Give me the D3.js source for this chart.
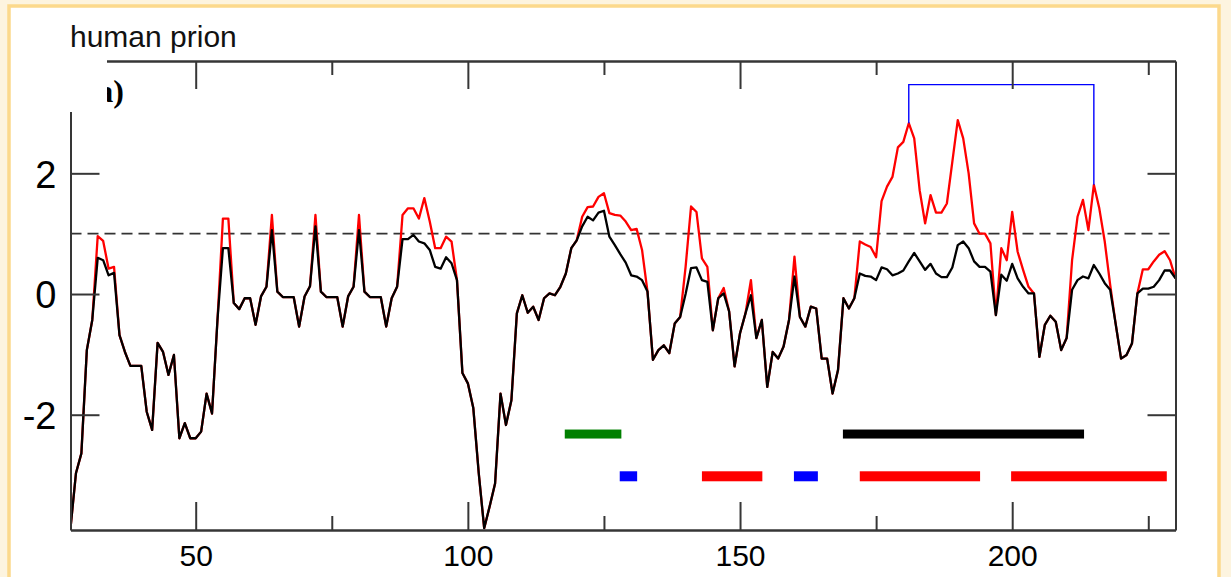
<!DOCTYPE html>
<html>
<head>
  <meta charset="utf-8">
  <title>human prion</title>
  <script src="https://cdn.jsdelivr.net/npm/d3@7.0.0/dist/d3.min.js"></script>
  <style>
    body { margin: 0; background: #fdf4df; }
    svg { display: block; font-family: "Liberation Sans", Arial, sans-serif; }
  </style>
</head>
<body>
  <div id="svgContainer"></div>

  <script>
    // residue numbers run from firstResidue, one value per residue
    var firstResidue = 27;

    // upper (red) profile
    var redValues = [
      -3.88, -2.97, -2.64, -0.93, -0.43, 0.96, 0.88, 0.42, 0.45, -0.68,
      -0.96, -1.19, -1.19, -1.19, -1.95, -2.25, -0.81, -0.96, -1.34, -1.01,
      -2.39, -2.14, -2.39, -2.39, -2.28, -1.65, -1.98, -0.43, 1.25, 1.25,
      -0.15, -0.25, -0.07, -0.07, -0.51, -0.04, 0.12, 1.31, 0.04, -0.05,
      -0.05, -0.05, -0.54, -0.04, 0.13, 1.31, 0.04, -0.05, -0.05, -0.05,
      -0.54, -0.04, 0.12, 1.31, 0.04, -0.05, -0.05, -0.05, -0.54, -0.07,
      0.12, 1.31, 1.42, 1.42, 1.25, 1.59, 1.2, 0.76, 0.76, 0.95,
      0.87, 0.23, -1.31, -1.48, -1.89, -2.97, -3.88, -3.52, -3.14, -1.65,
      -2.17, -1.76, -0.32, -0.02, -0.31, -0.21, -0.43, -0.07, 0.01, -0.02,
      0.12, 0.34, 0.76, 0.89, 1.28, 1.44, 1.45, 1.61, 1.67, 1.34,
      1.31, 1.3, 1.2, 1.06, 1.08, 0.73, 0.04, -1.09, -0.93, -0.85,
      -0.98, -0.49, -0.38, 0.45, 1.45, 1.36, 0.59, 0.45, -0.6, -0.07,
      0.1, -0.29, -1.2, -0.65, -0.32, 0.23, -0.73, -0.43, -1.54, -0.96,
      -1.07, -0.87, -0.43, 0.62, -0.38, -0.54, -0.21, -0.24, -1.07, -1.07,
      -1.65, -1.26, -0.07, -0.24, -0.07, 0.87, 0.82, 0.78, 0.61, 1.54,
      1.78, 1.94, 2.43, 2.52, 2.83, 2.58, 1.72, 1.17, 1.64, 1.35,
      1.35, 1.5, 2.19, 2.88, 2.58, 2.0, 1.17, 1.0, 1.0, 0.84,
      -0.35, 0.76, 0.56, 1.36, 0.7, 0.4, 0.12, 0.01, -1.04, -0.51,
      -0.36, -0.46, -0.93, -0.73, 0.56, 1.28, 1.56, 1.06, 1.81, 1.42,
      0.87, 0.15, -0.49, -1.07, -1.01, -0.82, 0.01, 0.41, 0.41, 0.54,
      0.65, 0.71, 0.56, 0.26
    ];

    // lower (black) profile
    var blackValues = [
      -3.88, -2.97, -2.64, -0.93, -0.43, 0.60, 0.56, 0.31, 0.35, -0.68,
      -0.96, -1.19, -1.19, -1.19, -1.95, -2.25, -0.81, -0.96, -1.34, -1.01,
      -2.39, -2.14, -2.39, -2.39, -2.28, -1.65, -1.98, -0.43, 0.76, 0.76,
      -0.15, -0.25, -0.07, -0.07, -0.51, -0.04, 0.12, 1.06, 0.04, -0.05,
      -0.05, -0.05, -0.54, -0.04, 0.13, 1.12, 0.04, -0.05, -0.05, -0.05,
      -0.54, -0.04, 0.12, 1.06, 0.04, -0.05, -0.05, -0.05, -0.54, -0.07,
      0.12, 0.91, 0.91, 0.98, 0.87, 0.84, 0.73, 0.45, 0.42, 0.61,
      0.51, 0.23, -1.31, -1.48, -1.89, -2.97, -3.88, -3.52, -3.14, -1.65,
      -2.17, -1.76, -0.32, -0.02, -0.31, -0.21, -0.43, -0.07, 0.01, -0.02,
      0.12, 0.34, 0.76, 0.89, 1.12, 1.28, 1.22, 1.35, 1.38, 0.95,
      0.81, 0.66, 0.52, 0.31, 0.29, 0.23, 0.04, -1.09, -0.93, -0.85,
      -0.98, -0.49, -0.38, 0.0, 0.43, 0.44, 0.23, 0.2, -0.6, -0.07,
      0.01, -0.29, -1.2, -0.65, -0.32, -0.02, -0.73, -0.43, -1.54, -0.96,
      -1.07, -0.87, -0.43, 0.29, -0.38, -0.54, -0.21, -0.24, -1.07, -1.07,
      -1.65, -1.26, -0.07, -0.24, -0.07, 0.34, 0.30, 0.29, 0.23, 0.44,
      0.41, 0.31, 0.34, 0.39, 0.54, 0.68, 0.54, 0.40, 0.50, 0.34,
      0.28, 0.28, 0.44, 0.81, 0.87, 0.76, 0.54, 0.45, 0.45, 0.37,
      -0.35, 0.32, 0.22, 0.50, 0.26, 0.12, 0.01, 0.01, -1.04, -0.51,
      -0.36, -0.46, -0.93, -0.73, 0.07, 0.23, 0.29, 0.26, 0.48, 0.34,
      0.18, 0.07, -0.49, -1.07, -1.01, -0.82, 0.01, 0.09, 0.09, 0.12,
      0.23, 0.39, 0.39, 0.26
    ];

    // segment bars: [start, end, colour]
    var upperBars = [
      [117.8, 128.2, "#008000"],
      [168.9, 213.2, "#000000"]
    ];
    var lowerBars = [
      [127.9, 131.1, "#0000ff"],
      [143.0, 154.1, "#ff0000"],
      [159.9, 164.3, "#0000ff"],
      [172.0, 194.1, "#ff0000"],
      [199.8, 228.4, "#ff0000"]
    ];
    var upperBarLevel = -2.32;
    var lowerBarLevel = -3.02;

    // bracket between two residues
    var bracketFrom = 181, bracketTo = 215, bracketTop = 3.47;

    var xMajorTicks = [50, 100, 150, 200];
    var xMinorTicks = [75, 125, 175, 225];
    var yTicks = [-2, 0, 2];
    var thresholdValue = 1;

    var W = 1231, H = 577;
    var plotLeft = 70.5, plotRight = 1175.5, plotTop = 61, plotBottom = 530;

    var svg = d3.select("#svgContainer").append("svg")
      .attr("width", W)
      .attr("height", H);

    // page frame
    svg.append("rect").attr("x", 0).attr("y", 0).attr("width", W).attr("height", H).attr("fill", "#fdf4df");
    svg.append("rect")
      .attr("x", 9).attr("y", 6).attr("width", 1210).attr("height", H + 20)
      .attr("fill", "#ffffff").attr("stroke", "#fcd98c").attr("stroke-width", 3.5);

    var x = d3.scaleLinear().domain([27, 230]).range([plotLeft, plotRight]);
    var y = d3.scaleLinear().domain([-3.91, 3.861]).range([plotBottom, plotTop]);

    var residues = redValues.map(function(d, i) { return firstResidue + i; });

    svg.append("clipPath").attr("id", "plotClip")
      .append("rect").attr("x", plotLeft).attr("y", plotTop - 2)
      .attr("width", plotRight - plotLeft).attr("height", plotBottom - plotTop + 2);

    // threshold line
    svg.append("line")
      .attr("x1", x(27)).attr("x2", x(230))
      .attr("y1", y(thresholdValue)).attr("y2", y(thresholdValue))
      .attr("stroke", "#333").attr("stroke-width", 1.6)
      .attr("stroke-dasharray", "11,6");

    var line = d3.line()
      .x(function(d) { return x(d[0]); })
      .y(function(d) { return y(d[1]); });

    var plot = svg.append("g").attr("clip-path", "url(#plotClip)");

    plot.append("path")
      .datum(residues.map(function(r, i) { return [r, redValues[i]]; }))
      .attr("d", line)
      .attr("fill", "none")
      .attr("stroke", "#ff0000")
      .attr("stroke-width", 2.3)
      .attr("stroke-linejoin", "round");

    plot.append("path")
      .datum(residues.map(function(r, i) { return [r, blackValues[i]]; }))
      .attr("d", line)
      .attr("fill", "none")
      .attr("stroke", "#000000")
      .attr("stroke-width", 2.3)
      .attr("stroke-linejoin", "round");

    // bracket
    var iFrom = bracketFrom - firstResidue, iTo = bracketTo - firstResidue;
    svg.append("path")
      .datum([[bracketFrom, redValues[iFrom]], [bracketFrom, bracketTop], [bracketTo, bracketTop], [bracketTo, redValues[iTo]]])
      .attr("d", line)
      .attr("fill", "none")
      .attr("stroke", "#0000ff")
      .attr("stroke-width", 1.4);

    // segment bars
    function drawBars(bars, level, h) {
      svg.selectAll(null)
        .data(bars)
        .enter().append("rect")
        .attr("x", function(d) { return x(d[0]); })
        .attr("y", y(level) - h / 2)
        .attr("width", function(d) { return x(d[1]) - x(d[0]); })
        .attr("height", h)
        .attr("fill", function(d) { return d[2]; });
    }
    drawBars(upperBars, upperBarLevel, 9);
    drawBars(lowerBars, lowerBarLevel, 10);

    // axes
    function styleAxis(g) {
      g.style("color", "#363636");
      g.selectAll("path, line").attr("stroke-width", 2);
      g.selectAll("text").attr("fill", "#000");
    }
    var plainNumber = function(d) { return String(d); };

    svg.append("g")
      .attr("transform", "translate(0," + plotBottom + ")")
      .call(d3.axisBottom(x).tickValues(xMajorTicks).tickSizeInner(-28).tickSizeOuter(0).tickPadding(15).tickFormat(plainNumber))
      .call(styleAxis)
      .selectAll("text").attr("font-size", 30);

    svg.append("g")
      .attr("transform", "translate(0," + plotBottom + ")")
      .call(d3.axisBottom(x).tickValues(xMinorTicks).tickSizeInner(-14).tickSizeOuter(0).tickFormat(""))
      .call(styleAxis);

    svg.append("g")
      .attr("transform", "translate(0," + plotTop + ")")
      .call(d3.axisTop(x).tickValues(xMajorTicks).tickSizeInner(-28).tickSizeOuter(0).tickFormat(""))
      .call(styleAxis);

    svg.append("g")
      .attr("transform", "translate(0," + plotTop + ")")
      .call(d3.axisTop(x).tickValues(xMinorTicks).tickSizeInner(-14).tickSizeOuter(0).tickFormat(""))
      .call(styleAxis);

    svg.append("g")
      .attr("transform", "translate(" + plotLeft + ",0)")
      .call(d3.axisLeft(y).tickValues(yTicks).tickSizeInner(-29).tickSizeOuter(0).tickPadding(14).tickFormat(plainNumber))
      .call(styleAxis)
      .selectAll("text").attr("font-size", 38).attr("dy", "0.36em");

    svg.append("g")
      .attr("transform", "translate(" + plotRight + ",0)")
      .call(d3.axisRight(y).tickValues(yTicks).tickSizeInner(-28).tickSizeOuter(0).tickFormat(""))
      .call(styleAxis);

    // panel label, partly hidden behind white box like the original
    svg.append("text")
      .attr("x", 124).attr("y", 102)
      .attr("text-anchor", "end")
      .attr("font-family", "'Liberation Serif', 'DejaVu Serif', serif")
      .attr("font-weight", "bold")
      .attr("font-size", 32)
      .text("a)");
    svg.append("rect")
      .attr("x", 60).attr("y", 56).attr("width", 47).attr("height", 56)
      .attr("fill", "#ffffff");

    svg.append("text")
      .attr("x", 70).attr("y", 46.5)
      .attr("font-size", 30)
      .attr("fill", "#111")
      .text("human prion");
  </script>
</body>
</html>
